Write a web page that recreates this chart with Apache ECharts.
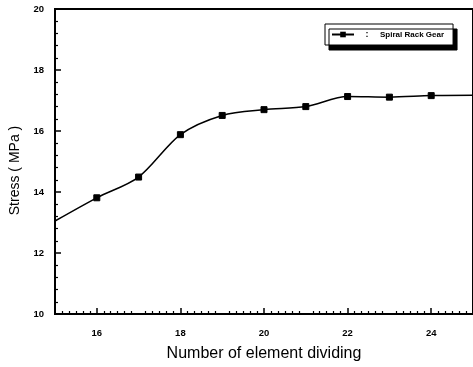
<!DOCTYPE html>
<html>
<head>
<meta charset="utf-8">
<script src="https://cdn.jsdelivr.net/npm/echarts@6/dist/echarts.min.js"></script>
<style>
  html, body { margin: 0; padding: 0; background: #fff; }
  #chart { width: 473px; height: 367px; }
</style>
</head>
<body>
<div id="chart"></div>
<script>
// Element count vs. stress for the spiral rack gear
const divisions = [15, 16, 17, 18, 19, 20, 21, 22, 23, 24, 25];
const stress = [13.05, 13.81, 14.49, 15.88, 16.51, 16.70, 16.80, 17.13, 17.11, 17.16, 17.17];
// only the computed cases carry a marker; the curve runs on to both axis ends
const measured = [false, true, true, true, true, true, true, true, true, true, false];
const xTickLabels = [16, 18, 20, 22, 24];
const seriesName = 'Spiral Rack Gear';

const chart = echarts.init(document.getElementById('chart'), null, { renderer: 'canvas' });

const lineData = divisions.map((x, i) => (
  measured[i] ? [x, stress[i]] : { value: [x, stress[i]], symbol: 'none' }
));

const fontFamily = 'Liberation Sans, Arial, sans-serif';
const tickFont = { fontFamily, fontWeight: 'bold', fontSize: 9.5, color: '#000' };

chart.setOption({
  animation: false,
  backgroundColor: '#fff',
  grid: {
    left: 55, top: 9, right: -5, bottom: 52,
    show: true, borderColor: '#000', borderWidth: 2, backgroundColor: 'transparent'
  },
  legend: {
    data: [seriesName],
    left: 325, top: 24,
    padding: [6, 9, 6, 6],
    itemWidth: 22, itemHeight: 7,
    backgroundColor: '#fff',
    borderColor: '#000', borderWidth: 1,
    shadowColor: '#000', shadowBlur: 0, shadowOffsetX: 4, shadowOffsetY: 5,
    formatter: '{c|:}{t|' + seriesName + '}',
    textStyle: {
      rich: {
        c: { width: 16, align: 'center', fontSize: 9, fontWeight: 'bold', color: '#000', fontFamily },
        t: { fontSize: 8, fontWeight: 'bold', color: '#000', fontFamily, padding: [0, 0, 0, 5] }
      }
    }
  },
  xAxis: {
    type: 'value',
    min: 15, max: 25, interval: 1,
    name: 'Number of element dividing',
    nameLocation: 'middle', nameGap: 32,
    nameTextStyle: { fontFamily, fontSize: 16, color: '#000' },
    axisLine: { show: true, lineStyle: { color: '#000', width: 2 } },
    axisTick: { show: true, inside: true, length: 6, customValues: xTickLabels, lineStyle: { color: '#000', width: 1.5 } },
    minorTick: { show: true, splitNumber: 6, length: 3, lineStyle: { color: '#000', width: 1.2 } },
    axisLabel: { customValues: xTickLabels, margin: 14, ...tickFont },
    splitLine: { show: false }
  },
  yAxis: {
    type: 'value',
    min: 10, max: 20, interval: 2,
    name: 'Stress ( MPa )',
    nameLocation: 'middle', nameGap: 26,
    nameTextStyle: { fontFamily, fontSize: 14, color: '#000', padding: [0, 18, 0, 0] },
    axisLine: { show: true, lineStyle: { color: '#000', width: 2 } },
    axisTick: { show: true, inside: true, length: 6, lineStyle: { color: '#000', width: 1.5 } },
    minorTick: { show: true, splitNumber: 5, length: 3, lineStyle: { color: '#000', width: 1.2 } },
    axisLabel: { margin: 11, ...tickFont },
    splitLine: { show: false }
  },
  series: [{
    name: seriesName,
    type: 'line',
    smooth: 0.3,
    symbol: 'rect',
    symbolSize: 6,
    data: lineData,
    lineStyle: { color: '#000', width: 1.5 },
    itemStyle: { color: '#000', borderColor: '#000' }
  }]
});
</script>
</body>
</html>
